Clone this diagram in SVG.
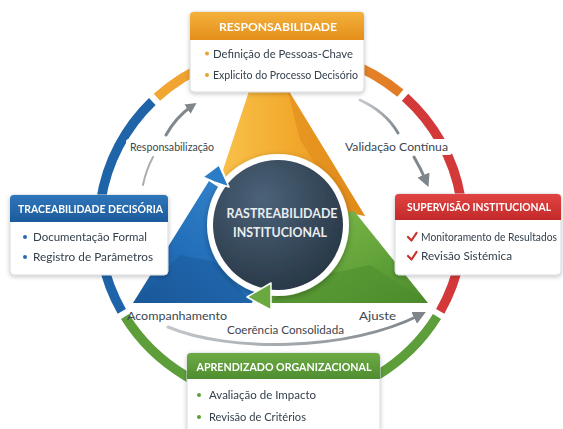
<svg xmlns="http://www.w3.org/2000/svg" width="563" height="429" viewBox="0 0 563 429">
<defs>
<style>
.hdr{font-family:Lato,"Liberation Sans",sans-serif;font-weight:bold;font-size:11.5px;fill:#ffffff;text-anchor:middle}
.itm{font-family:Lato,"Liberation Sans",sans-serif;font-size:11.5px;fill:#34404c}
.lbl{font-family:Lato,"Liberation Sans",sans-serif;font-size:12px;fill:#3c4650}
.ctr{font-family:Lato,"Liberation Sans",sans-serif;font-weight:bold;font-size:13.5px;fill:#e8edf1;text-anchor:middle}
.box{fill:#ffffff;stroke:#d6d9dd;stroke-width:1}
.ring{fill:none;stroke-width:9.5}
.con{fill:none;stroke:#80878d;stroke-width:3;stroke-linecap:round}
.halo{fill:#ffffff}
</style>
<filter id="sh" x="-20%" y="-20%" width="140%" height="150%">
<feDropShadow dx="0" dy="1.5" stdDeviation="2" flood-color="#000" flood-opacity="0.22"/>
</filter>
<filter id="csh" x="-20%" y="-20%" width="140%" height="140%">
<feDropShadow dx="0" dy="2" stdDeviation="3" flood-color="#000" flood-opacity="0.3"/>
</filter>
<marker id="ah" viewBox="0 0 10 10" refX="5" refY="5" markerWidth="11" markerHeight="11" markerUnits="userSpaceOnUse" orient="auto">
<path d="M0,0 L10,5 L0,10 Z" fill="#7e858b"/>
</marker>
<marker id="ahb" viewBox="0 0 10 10" refX="5" refY="5" markerWidth="13" markerHeight="13" markerUnits="userSpaceOnUse" orient="auto">
<path d="M0,0 L10,5 L0,10 Z" fill="#7e858b"/>
</marker>
<linearGradient id="gRingO" gradientUnits="userSpaceOnUse" x1="157" y1="0" x2="400" y2="0">
<stop offset="0" stop-color="#f2a733"/><stop offset="1" stop-color="#e27c25"/>
</linearGradient>
<linearGradient id="gO" x1="0" y1="0" x2="1" y2="0">
<stop offset="0" stop-color="#f8c04a"/><stop offset="0.45" stop-color="#f3ab2e"/><stop offset="1" stop-color="#e38d1c"/>
</linearGradient>
<linearGradient id="gG" x1="0" y1="0" x2="1" y2="1">
<stop offset="0" stop-color="#84bf50"/><stop offset="0.55" stop-color="#65a53b"/><stop offset="1" stop-color="#4a8a2b"/>
</linearGradient>
<linearGradient id="gB" x1="1" y1="0" x2="0" y2="1">
<stop offset="0" stop-color="#3a8ad2"/><stop offset="0.6" stop-color="#236fb9"/><stop offset="1" stop-color="#1a5899"/>
</linearGradient>
<radialGradient id="gC" cx="0.38" cy="0.3" r="0.8">
<stop offset="0" stop-color="#4b6278"/><stop offset="1" stop-color="#253442"/>
</radialGradient>
<linearGradient id="hO" x1="0" y1="0" x2="0" y2="1"><stop offset="0" stop-color="#f4b13b"/><stop offset="1" stop-color="#e48f1c"/></linearGradient>
<linearGradient id="hB" x1="0" y1="0" x2="0" y2="1"><stop offset="0" stop-color="#2f76ba"/><stop offset="1" stop-color="#1c5b9c"/></linearGradient>
<linearGradient id="hR" x1="0" y1="0" x2="0" y2="1"><stop offset="0" stop-color="#e04441"/><stop offset="1" stop-color="#c3292a"/></linearGradient>
<linearGradient id="hG" x1="0" y1="0" x2="0" y2="1"><stop offset="0" stop-color="#6eab45"/><stop offset="1" stop-color="#4e8d2f"/></linearGradient>
<linearGradient id="gCon" gradientUnits="userSpaceOnUse" x1="168" y1="0" x2="424" y2="0">
<stop offset="0" stop-color="#c3c7cb"/><stop offset="1" stop-color="#7e858b"/>
</linearGradient>
<linearGradient id="gConR" gradientUnits="userSpaceOnUse" x1="360" y1="100" x2="398" y2="133">
<stop offset="0" stop-color="#c7cbcf"/><stop offset="1" stop-color="#80878d"/>
</linearGradient>
</defs>

<rect width="563" height="429" fill="#ffffff"/>

<!-- outer ring -->
<g id="ring">
<path class="ring" stroke="#1f64a8" d="M121.8,311.3 A182,176 0 0 1 152.3,101.5"/>
<path class="ring" stroke="url(#gRingO)" d="M156.9,97.3 A182,176 0 0 1 400.4,93.2"/>
<path class="ring" stroke="#d4393a" d="M405.1,97.3 A182,176 0 0 1 440.2,311.3"/>
<path class="ring" stroke="#5e9e3a" d="M437,316.6 A182,176 0 0 1 125,316.6"/>
</g>

<!-- triangle pieces -->
<g id="triangle">
<polygon fill="url(#gO)" points="250,88 287,88 365,216 346,212 278,225 226,177 223,170"/>
<polygon fill="#e0891a" opacity="0.55" points="287,88 365,216 346,212 300,140"/>
<polygon fill="url(#gG)" points="354,211 428,303 268,303 268,290 278,225"/>
<polygon fill="#4c8b2c" opacity="0.5" points="428,303 268,303 300,280 370,265"/>
<polygon fill="url(#gB)" points="133,303 252,303 278,225 215,185 209,181"/>
<polygon fill="#1a5696" opacity="0.45" points="133,303 252,303 215,262 180,255"/>
</g>

<!-- center -->
<g id="center" filter="url(#csh)">
<circle cx="278" cy="225" r="71" fill="#ffffff"/>
<circle cx="278" cy="225" r="65" fill="url(#gC)"/>
</g>
<g id="center-text">
<text class="ctr" x="282" y="218" textLength="111" lengthAdjust="spacingAndGlyphs">RASTREABILIDADE</text>
<text class="ctr" x="280" y="237" textLength="94" lengthAdjust="spacingAndGlyphs">INSTITUCIONAL</text>
</g>

<!-- arrowheads of pieces on top -->
<g id="piece-heads" stroke="#ffffff" stroke-width="1.5" stroke-linejoin="round">
<polygon fill="#2b7cc6" points="219,165 229,187 214,182 203,177"/>
<polygon fill="#6aa93f" points="247,297 271,283 271,310"/>
</g>

<!-- connectors -->
<g id="connectors">
<path d="M143,185 Q146,170 153,157" fill="none" stroke="#a9aeb3" stroke-width="2" stroke-linecap="round"/>
<path class="con" d="M166,135 Q176,117 192,106" marker-end="url(#ah)"/>
<path d="M360,100 Q386,112 398,133" fill="none" stroke="url(#gConR)" stroke-width="3" stroke-linecap="round"/>
<path class="con" d="M414,157 Q421,169 426,181" marker-end="url(#ahb)"/>
<path d="M168,327 C228,352 345,352 420,315" fill="none" stroke="url(#gCon)" stroke-width="3" stroke-linecap="round" marker-end="url(#ahb)"/>
</g>

<g id="labels">
<rect class="halo" x="126" y="139" width="92" height="16" rx="3"/>
<text class="lbl" x="130" y="151" textLength="84" lengthAdjust="spacingAndGlyphs">Responsabilização</text>
<rect class="halo" x="341" y="139" width="111" height="16" rx="3"/>
<text class="lbl" x="345" y="151" textLength="103" lengthAdjust="spacingAndGlyphs">Validação Contínua</text>
<text class="lbl" x="127" y="320" textLength="100" lengthAdjust="spacingAndGlyphs">Acompanhamento</text>
<text class="lbl" x="359" y="320" textLength="37" lengthAdjust="spacingAndGlyphs">Ajuste</text>
<text class="lbl" x="227" y="334" textLength="117" lengthAdjust="spacingAndGlyphs">Coerência Consolidada</text>
</g>

<!-- top box -->
<g id="responsabilidade" filter="url(#sh)">
<rect class="box" x="190" y="12" width="174" height="80" rx="4"/>
<path fill="url(#hO)" d="M190,40 L190,16 Q190,12 194,12 L360,12 Q364,12 364,16 L364,40 Z"/>
<text class="hdr" x="278" y="30.5" textLength="118" lengthAdjust="spacingAndGlyphs">RESPONSABILIDADE</text>
<circle cx="207" cy="53.5" r="2" fill="#eba232"/>
<text class="itm" x="213" y="57.5" textLength="140" lengthAdjust="spacingAndGlyphs">Definição de Pessoas-Chave</text>
<circle cx="207" cy="75" r="2" fill="#eba232"/>
<text class="itm" x="213" y="79" textLength="145" lengthAdjust="spacingAndGlyphs">Explicito do Processo Decisório</text>
</g>

<!-- left box -->
<g id="traceabilidade" filter="url(#sh)">
<rect class="box" x="10" y="195" width="158" height="80" rx="4"/>
<path fill="url(#hB)" d="M10,222 L10,199 Q10,195 14,195 L164,195 Q168,195 168,199 L168,222 Z"/>
<text class="hdr" x="90.5" y="212.5" textLength="145" lengthAdjust="spacingAndGlyphs">TRACEABILIDADE DECISÓRIA</text>
<circle cx="25" cy="237" r="2" fill="#2a6bb0"/>
<text class="itm" x="33" y="241" textLength="114" lengthAdjust="spacingAndGlyphs">Documentação Formal</text>
<circle cx="25" cy="257" r="2" fill="#2a6bb0"/>
<text class="itm" x="33" y="261" textLength="120" lengthAdjust="spacingAndGlyphs">Registro de Parâmetros</text>
</g>

<!-- right box -->
<g id="supervisao" filter="url(#sh)">
<rect class="box" x="395" y="194" width="166" height="81" rx="4"/>
<path fill="url(#hR)" d="M395,220 L395,198 Q395,194 399,194 L557,194 Q561,194 561,198 L561,220 Z"/>
<text class="hdr" x="479" y="211" style="font-size:10.5px" textLength="144" lengthAdjust="spacingAndGlyphs">SUPERVISÃO INSTITUCIONAL</text>
<path d="M408,237 L411.5,240.5 L416.5,233" fill="none" stroke="#c8302c" stroke-width="2.2" stroke-linecap="round" stroke-linejoin="round"/>
<text class="itm" x="421" y="241" style="font-size:10.5px" textLength="136" lengthAdjust="spacingAndGlyphs">Monitoramento de Resultados</text>
<path d="M408,256 L411.5,259.5 L416.5,252" fill="none" stroke="#c8302c" stroke-width="2.2" stroke-linecap="round" stroke-linejoin="round"/>
<text class="itm" x="421" y="260" textLength="91" lengthAdjust="spacingAndGlyphs">Revisão Sistémica</text>
</g>

<!-- bottom box -->
<g id="aprendizado" filter="url(#sh)">
<rect class="box" x="187" y="353" width="193" height="90" rx="4"/>
<path fill="url(#hG)" d="M187,379 L187,357 Q187,353 191,353 L376,353 Q380,353 380,357 L380,379 Z"/>
<text class="hdr" x="284" y="370.5" textLength="175" lengthAdjust="spacingAndGlyphs">APRENDIZADO ORGANIZACIONAL</text>
<circle cx="199" cy="395" r="2" fill="#5e9e3a"/>
<text class="itm" x="209" y="399" textLength="107" lengthAdjust="spacingAndGlyphs">Avaliação de Impacto</text>
<circle cx="199" cy="417" r="2" fill="#5e9e3a"/>
<text class="itm" x="209" y="421" textLength="97" lengthAdjust="spacingAndGlyphs">Revisão de Critérios</text>
</g>
</svg>
